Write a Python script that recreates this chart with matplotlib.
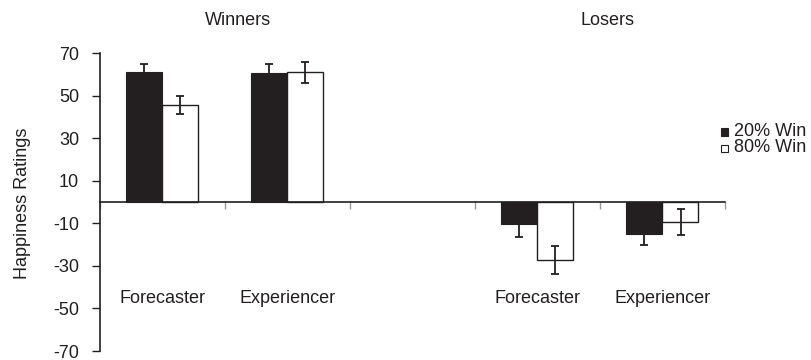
import numpy as np
from matplotlib import pyplot as plt
from matplotlib.patches import Rectangle

plt.rcParams['font.family'] = ['Liberation Sans', 'DejaVu Sans']
plt.rcParams['axes.unicode_minus'] = False

# 5 category slots: Winners (2), blank gap, Losers (2)
slots = ['Forecaster', 'Experiencer', '', 'Forecaster', 'Experiencer']
series = ['20% Win', '80% Win']
low_win = [61.3, 60.8, np.nan, -10.3, -15.2]   # 20% win chance
low_err = [3.6, 4.1, np.nan, 6.3, 5.2]
high_win = [45.7, 61.0, np.nan, -27.4, -9.5]   # 80% win chance
high_err = [4.2, 4.9, np.nan, 6.6, 6.2]
groups = ['Winners', 'Losers']
group_x = [0.6, 3.56]

ink = '#231f20'
fig = plt.figure(figsize=(8.12, 3.6), dpi=100)
ax = fig.add_axes([100 / 812, 9 / 360, 625 / 812, 298 / 360])

x = np.arange(len(slots))
w = 0.288
ek = dict(ecolor=ink, elinewidth=1.3, capsize=3, capthick=1.3)
ax.bar(x - w / 2, low_win, w, yerr=low_err, color=ink, edgecolor=ink,
       linewidth=0.8, error_kw=ek, zorder=2)
ax.bar(x + w / 2, high_win, w, yerr=high_err, color='white', edgecolor=ink,
       linewidth=1.0, error_kw=ek, zorder=2)

ax.set_xlim(-0.5, 4.5)
ax.set_ylim(-70, 70)
ax.set_yticks(np.arange(-70, 71, 20))
ax.tick_params(axis='y', labelsize=13, length=6, width=1, color=ink, pad=9,
               labelcolor=ink)

# category boundaries as ticks on the zero line
ax.spines['bottom'].set_position(('data', 0))
ax.spines['bottom'].set_zorder(3)
ax.set_xticks(np.arange(-0.5, 4.6, 1))
ax.set_xticklabels([])
ax.tick_params(axis='x', direction='out', length=5, width=1, color='#9a9a9a')
for s in ['top', 'right']:
    ax.spines[s].set_visible(False)
for s in ['left', 'bottom']:
    ax.spines[s].set_color(ink)
    ax.spines[s].set_linewidth(1.2)

for xi, lab in zip(x, slots):
    if lab:
        ax.text(xi, 0.177, lab, transform=ax.get_xaxis_transform(), ha='center',
                va='center', fontsize=13, color=ink)

# group headings above the plot
for gx, g in zip(group_x, groups):
    ax.text(gx, 1.11, g, transform=ax.get_xaxis_transform(), ha='center',
            va='center', fontsize=13, color=ink)

fig.text(23 / 812, 1 - 203 / 360, 'Happiness Ratings', rotation=90, ha='center',
         va='center', fontsize=13, color=ink)

# legend drawn by hand
for i, (lab, fc) in enumerate(zip(series, [ink, 'white'])):
    yc = 132 + i * 16
    fig.patches.append(Rectangle((721 / 812, 1 - (yc + 3.5) / 360), 7 / 812, 7 / 360,
                                 transform=fig.transFigure, facecolor=fc,
                                 edgecolor=ink, linewidth=0.8))
    fig.text(734 / 812, 1 - yc / 360, lab, ha='left', va='center', fontsize=13,
             color=ink)

fig.savefig('out.png', dpi=100)
